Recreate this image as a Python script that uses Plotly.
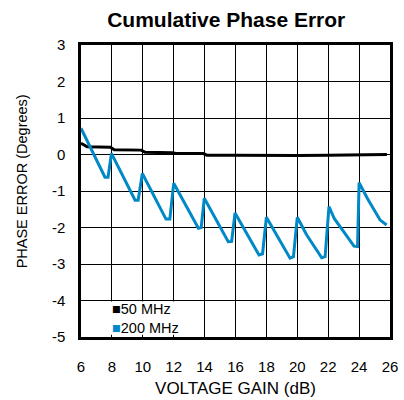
import plotly.graph_objects as go

# ---- data ----
x_50 = [6.0, 6.4, 7.9, 8.15, 9.9, 10.15, 11.9, 12.15, 13.9, 14.15, 16.0, 18.0, 20.0, 22.0, 24.0, 25.8]
y_50 = [0.31, 0.21, 0.20, 0.13, 0.12, 0.06, 0.05, 0.03, 0.03, -0.02, -0.02, -0.03, -0.03, -0.02, -0.02, 0.0]

x_200 = [6.0, 7.55, 7.75, 7.97, 9.5, 9.7, 9.97, 11.5, 11.75, 12.0, 13.6, 13.78, 13.98,
         15.53, 15.75, 15.97, 17.52, 17.75, 18.0, 19.53, 19.75, 20.0, 20.6, 21.58, 21.8,
         22.05, 22.4, 23.67, 23.9, 24.0, 24.53, 25.35, 25.78]
y_200 = [0.72, -0.62, -0.62, 0.03, -1.25, -1.25, -0.52, -1.77, -1.77, -0.79, -2.02, -2.0, -1.2,
         -2.39, -2.38, -1.6, -2.75, -2.72, -1.72, -2.84, -2.8, -1.72, -2.2, -2.83, -2.8,
         -1.43, -1.76, -2.51, -2.52, -0.77, -1.2, -1.79, -1.93]

series_names = ["50 MHz", "200 MHz"]
series_colors = ["#000000", "#0089C6"]

x_ticks = [6, 8, 10, 12, 14, 16, 18, 20, 22, 24, 26]
y_ticks = [3, 2, 1, 0, -1, -2, -3, -4, -5]

title_text = "Cumulative Phase Error"
x_title = "VOLTAGE GAIN (dB)"
y_title = "PHASE ERROR (Degrees)"

FONT = "Liberation Sans, Arial, sans-serif"

fig = go.Figure()
fig.add_trace(go.Scatter(x=x_50, y=y_50, mode="lines", name=series_names[0],
                         line=dict(color=series_colors[0], width=3), showlegend=False))
fig.add_trace(go.Scatter(x=x_200, y=y_200, mode="lines", name=series_names[1],
                         line=dict(color=series_colors[1], width=3), showlegend=False))

# legend box (white) and entries
fig.add_shape(type="rect", xref="paper", yref="paper", x0=0.088, x1=0.36, y0=0.008, y1=0.122,
              fillcolor="white", line=dict(width=0), layer="above")
legend_text = "<br>".join(f"<span style='color:{c}'>■</span>{n}"
                          for n, c in zip(series_names, series_colors))
fig.add_annotation(xref="paper", yref="paper", x=0.095, y=0.062, xanchor="left", yanchor="middle",
                   text=legend_text, showarrow=False, align="left",
                   font=dict(family=FONT, size=14.5, color="black"))

fig.add_annotation(xref="paper", yref="paper", x=-0.19, y=0.534, xanchor="center", yanchor="middle",
                   text=y_title, textangle=-90, showarrow=False,
                   font=dict(family=FONT, size=14.5, color="black"))

axis_common = dict(showgrid=True, gridcolor="#000000", gridwidth=1, zeroline=False,
                   showline=True, linecolor="black", linewidth=2.5, mirror=True, automargin=False,
                   ticks="", tickfont=dict(family=FONT, size=15, color="black"))

fig.update_xaxes(range=[6, 26], tickvals=x_ticks, ticktext=[str(v) for v in x_ticks],
                 ticklabelstandoff=14,
                 title=dict(text=x_title, font=dict(family=FONT, size=17, color="black"), standoff=9),
                 **axis_common)
fig.update_yaxes(range=[-5, 3], tickvals=y_ticks, ticktext=[str(v) for v in y_ticks],
                 ticklabelstandoff=10, **axis_common)

fig.update_layout(
    width=404, height=400,
    margin=dict(l=81, r=14, t=45, b=63, autoexpand=False),
    paper_bgcolor="white", plot_bgcolor="white",
    title=dict(text=f"<b>{title_text}</b>", x=0.56, xanchor="center", xref="container",
               y=0.952, yanchor="middle", font=dict(family=FONT, size=21, color="black")),
    showlegend=False,
)

fig.write_html("out.html")
